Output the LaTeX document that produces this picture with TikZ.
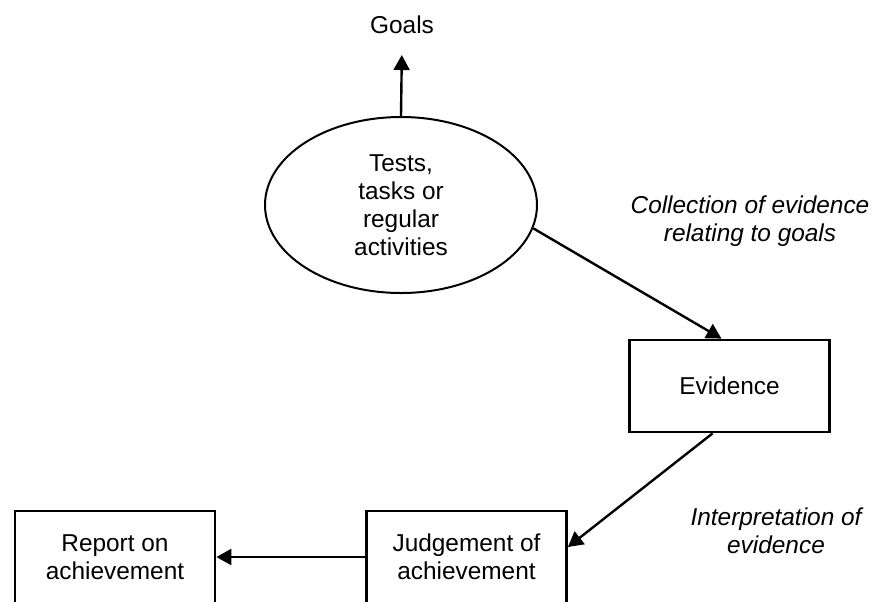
\documentclass[tikz,border=0pt]{standalone}
\usepackage{fontspec}
\setmainfont{Liberation Sans}
\usetikzlibrary{shapes.geometric,arrows.meta,positioning}
\newcommand{\asmtfont}{\fontsize{12.2}{14}\selectfont}

\begin{document}
\begin{tikzpicture}[x=0.5pt,y=-0.5pt,
  box/.style={draw,line width=1.4pt,rectangle,minimum width=100pt,minimum height=46pt,
              align=center,font=\asmtfont},
  activity/.style={draw,line width=1pt,ellipse,minimum width=136pt,minimum height=88pt,
                   inner sep=0pt,align=center,font=\asmtfont},
  note/.style={align=center,font=\asmtfont\itshape},
  arr/.style={-{Triangle[length=7.5pt,width=8pt]},line width=1.2pt}
]
  \clip (0,0) rectangle (872,601);
  % Source of evidence
  \node[font=\asmtfont] (goals) at (402,25) {Goals};
  \node[activity] (tasks) at (401,205) {Tests,\\tasks or\\regular\\activities};
  % Boxes
  \node[box] (evid) at (729.5,386) {Evidence};
  \node[box] (judge) at (466.5,557) {Judgement of\\achievement};
  \node[box] (report) at (115,557) {Report on\\achievement};
  % Labels
  \node[note] (collect) at (750,221) {Collection of evidence\\relating to goals};
  \node[note] (interp) at (776,531) {Interpretation of\\evidence};
  % Flows
  \draw[arr,shorten >=7pt] (tasks.north) -- (goals.south);
  \draw[arr] (tasks.-10) -- ([xshift=-4pt]evid.north);
  \draw[arr] ([xshift=-8.5pt]evid.south) -- ([yshift=5pt]judge.east);
  \draw[arr] (judge.west) -- (report.east);
\end{tikzpicture}
\end{document}
